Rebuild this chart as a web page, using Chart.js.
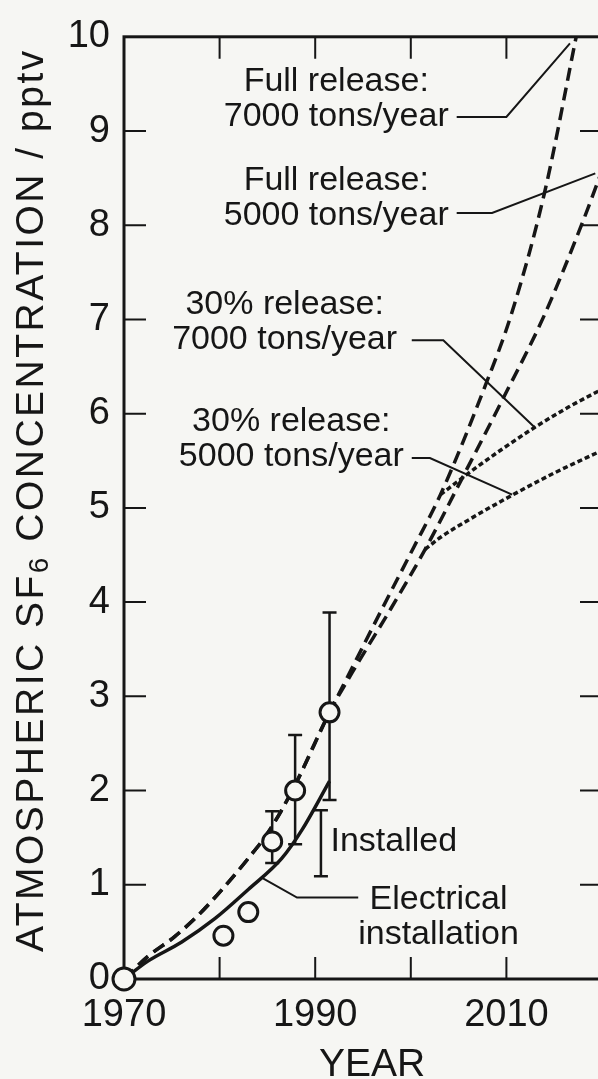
<!DOCTYPE html>
<html>
<head>
<meta charset="utf-8">
<script src="https://cdn.jsdelivr.net/npm/chart.js@4/dist/chart.umd.min.js"></script>
<style>
  html, body { margin: 0; padding: 0; background: #f6f6f3; overflow: hidden; width: 598px; height: 1079px; }
  #wrap { position: relative; width: 620px; height: 1079px; }
  canvas { display: block; }
</style>
</head>
<body>
<div id="wrap"><canvas id="chart" width="620" height="1079"></canvas></div>
<script>
// ---- axis ticks ----
const xTicks = [1970, 1980, 1990, 2000, 2010, 2020];
const xTickLabels = [1970, 1990, 2010];
const yTicks = [0, 1, 2, 3, 4, 5, 6, 7, 8, 9, 10];

// ---- measured atmospheric SF6 (open circles) ----
const obsYears  = [1970, 1980.4, 1983.0, 1985.5, 1987.9, 1991.5];
const obsValues = [0, 0.46, 0.71, 1.46, 2.00, 2.83];

// ---- uncertainty bars (the last one is the "Installed" estimate) ----
const errYears = [1985.5, 1987.9, 1991.5, 1990.6];
const errLow   = [1.23, 1.43, 1.90, 1.09];
const errHigh  = [1.78, 2.59, 3.89, 1.79];

// ---- estimate from electrical installation ----
const elecYears  = [1970, 1972.5, 1976.0, 1979.5, 1983.0, 1986.5, 1988.6, 1991.5];
const elecValues = [0, 0.19, 0.39, 0.64, 0.95, 1.28, 1.58, 2.10];

// ---- full release scenarios ----
const full7000Years  = [1970, 1972.5, 1975.3, 1977.8, 1980.6, 1983.0, 1985.1, 1987.7, 1991.5, 1994.0, 1997.0, 2000.3, 2003.1, 2007.8, 2010.5, 2014.0, 2017.3];
const full7000Values = [0, 0.24, 0.45, 0.68, 0.99, 1.28, 1.56, 2.02, 2.83, 3.33, 3.93, 4.58, 5.14, 6.30, 7.05, 8.35, 10.0];

const full5000Years  = [1970, 1972.5, 1975.3, 1977.8, 1980.6, 1983.0, 1985.1, 1987.7, 1991.5, 1994.5, 1997.5, 2001.5, 2005.6, 2009.8, 2013.9, 2018.0, 2020.0];
const full5000Values = [0, 0.24, 0.45, 0.68, 0.99, 1.28, 1.56, 2.02, 2.83, 3.36, 3.86, 4.56, 5.36, 6.19, 7.03, 8.04, 8.58];

// ---- 30 % release scenarios ----
const part7000Years  = [2003.1, 2005.8, 2009.5, 2013.2, 2016.5, 2020.0];
const part7000Values = [5.14, 5.35, 5.62, 5.87, 6.07, 6.26];

const part5000Years  = [2001.5, 2003.0, 2006.0, 2010.7, 2015.0, 2020.0];
const part5000Values = [4.56, 4.68, 4.87, 5.14, 5.37, 5.61];

// ---- annotation text and leader lines (data coordinates) ----
const notes = [
  { at: [1992.2, 9.425], align: 'center', lines: ['Full release:', '7000 tons/year'] },
  { at: [1992.2, 8.375], align: 'center', lines: ['Full release:', '5000 tons/year'] },
  { at: [1986.8, 7.06],  align: 'center', lines: ['30% release:', '7000 tons/year'] },
  { at: [1987.5, 5.82],  align: 'center', lines: ['30% release:', '5000 tons/year'] },
  { at: [1991.6, 1.355], align: 'left',   lines: ['Installed'] },
  { at: [2002.9, 0.746], align: 'center', lines: ['Electrical', 'installation'] }
];
const leaders = [
  [[2004.8, 9.15], [2010.0, 9.15], [2016.65, 9.93]],
  [[2004.8, 8.13], [2008.5, 8.13], [2019.3, 8.55]],
  [[2000.1, 6.78], [2003.4, 6.78], [2013.0, 5.85]],
  [[2000.1, 5.53], [2002.0, 5.53], [2010.6, 5.14]],
  [[1984.4, 1.075], [1988.1, 0.865], [1994.5, 0.865]]
];

const INK = '#161616';
const BG = '#f6f6f3';
const FAMILY = '"Liberation Sans", Arial, Helvetica, sans-serif';
const TICK_LEN = 22;

const pts = (xs, ys) => xs.map((x, i) => ({ x: x, y: ys[i] }));

const curve = (label, xs, ys, dash, width, order) => ({
  label: label,
  data: pts(xs, ys),
  showLine: true,
  borderColor: INK,
  borderWidth: width,
  borderDash: dash,
  pointRadius: 0,
  cubicInterpolationMode: 'monotone',
  fill: false,
  order: order
});

// frame, inward ticks, error bars, leader lines, notes and axis titles
const decorations = {
  id: 'decorations',
  beforeDatasetsDraw(chart) {
    const { ctx, chartArea: a, scales: { x, y } } = chart;
    ctx.save();
    ctx.strokeStyle = INK;
    ctx.lineCap = 'butt';
    ctx.lineWidth = 3;
    ctx.strokeRect(a.left, a.top, a.right - a.left, a.bottom - a.top);

    ctx.lineWidth = 2;
    ctx.beginPath();
    xTicks.forEach(v => {
      const px = x.getPixelForValue(v);
      if (px <= a.left + 2 || px >= a.right - 2) return;
      ctx.moveTo(px, a.bottom); ctx.lineTo(px, a.bottom - TICK_LEN);
      ctx.moveTo(px, a.top);    ctx.lineTo(px, a.top + TICK_LEN);
    });
    yTicks.forEach(v => {
      const py = y.getPixelForValue(v);
      if (py >= a.bottom - 2 || py <= a.top + 2) return;
      ctx.moveTo(a.left, py);  ctx.lineTo(a.left + TICK_LEN, py);
      ctx.moveTo(a.right, py); ctx.lineTo(a.right - TICK_LEN, py);
    });
    ctx.stroke();

    // uncertainty bars
    ctx.lineWidth = 2.5;
    ctx.beginPath();
    errYears.forEach((yr, i) => {
      const px = x.getPixelForValue(yr);
      const lo = y.getPixelForValue(errLow[i]);
      const hi = y.getPixelForValue(errHigh[i]);
      ctx.moveTo(px, lo); ctx.lineTo(px, hi);
      ctx.moveTo(px - 7, lo); ctx.lineTo(px + 7, lo);
      ctx.moveTo(px - 7, hi); ctx.lineTo(px + 7, hi);
    });
    ctx.stroke();
    ctx.restore();
  },
  afterDatasetsDraw(chart) {
    const { ctx, scales: { x, y } } = chart;
    ctx.save();
    ctx.strokeStyle = INK;
    ctx.fillStyle = INK;
    ctx.lineWidth = 2;
    ctx.lineJoin = 'miter';
    leaders.forEach(path => {
      ctx.beginPath();
      path.forEach(([xv, yv], i) => {
        const px = x.getPixelForValue(xv), py = y.getPixelForValue(yv);
        if (i === 0) ctx.moveTo(px, py); else ctx.lineTo(px, py);
      });
      ctx.stroke();
    });

    ctx.font = '34px ' + FAMILY;
    ctx.textBaseline = 'alphabetic';
    notes.forEach(n => {
      const px = x.getPixelForValue(n.at[0]);
      const py = y.getPixelForValue(n.at[1]);
      ctx.textAlign = n.align;
      n.lines.forEach((t, i) => ctx.fillText(t, px, py + i * 35));
    });

    // x axis title
    ctx.font = '39px ' + FAMILY;
    ctx.textAlign = 'center';
    ctx.fillText('YEAR', 372, 1076);

    // y axis title with subscript, read bottom to top
    const main = '39px ' + FAMILY, small = '28px ' + FAMILY;
    const p0 = 'ATMOSPHERIC ', p1 = 'SF', sub = '6', p2 = ' CONCENTRATION / pptv';
    ctx.letterSpacing = '2.5px';
    ctx.font = main;
    const w0 = ctx.measureText(p0).width, w1 = ctx.measureText(p1).width;
    ctx.translate(43, 628 + w0);
    ctx.rotate(-Math.PI / 2);
    ctx.textAlign = 'left';
    let tx = 0;
    ctx.fillText(p0, tx, 0); tx += w0;
    ctx.fillText(p1, tx, 0); tx += w1;
    ctx.font = small; ctx.fillText(sub, tx, 5); tx += ctx.measureText(sub).width;
    ctx.font = main;  ctx.fillText(p2, tx, 0);
    ctx.restore();
  }
};

new Chart(document.getElementById('chart'), {
  type: 'scatter',
  data: {
    datasets: [
      {
        label: 'Measured',
        data: pts(obsYears, obsValues),
        showLine: false,
        pointRadius: c => (c.dataIndex === 0 ? 11 : 9.5),
        pointBorderWidth: 3,
        pointBorderColor: INK,
        pointBackgroundColor: BG,
        order: 0,
        clip: 16
      },
      curve('Electrical installation', elecYears, elecValues, [], 3.5, 1),
      curve('Full release: 7000 tons/year', full7000Years, full7000Values, [13, 7], 3.5, 2),
      curve('Full release: 5000 tons/year', full5000Years, full5000Values, [13, 7], 3.5, 2),
      curve('30% release: 7000 tons/year', part7000Years, part7000Values, [5, 3], 3.5, 3),
      curve('30% release: 5000 tons/year', part5000Years, part5000Values, [5, 3], 3.5, 3)
    ]
  },
  options: {
    responsive: false,
    animation: false,
    events: [],
    layout: { padding: { top: 27, right: 18, left: 0, bottom: 0 } },
    plugins: { legend: { display: false }, tooltip: { enabled: false } },
    scales: {
      x: {
        type: 'linear',
        min: 1970,
        max: 2020,
        afterBuildTicks: s => { s.ticks = xTicks.map(v => ({ value: v })); },
        afterFit: s => { s.height = 100; },
        grid: { display: false, drawTicks: false },
        border: { display: false },
        ticks: {
          autoSkip: false,
          maxRotation: 0,
          padding: 14,
          color: INK,
          font: { family: FAMILY, size: 38 },
          callback: v => xTickLabels.includes(v) ? String(v) : ''
        }
      },
      y: {
        type: 'linear',
        min: 0,
        max: 10,
        afterBuildTicks: s => { s.ticks = yTicks.map(v => ({ value: v })); },
        afterFit: s => { s.width = 124; },
        grid: { display: false, drawTicks: false },
        border: { display: false },
        ticks: {
          padding: 14,
          color: INK,
          font: { family: FAMILY, size: 38 },
          callback: v => String(v)
        }
      }
    }
  },
  plugins: [decorations]
});
</script>
</body>
</html>
